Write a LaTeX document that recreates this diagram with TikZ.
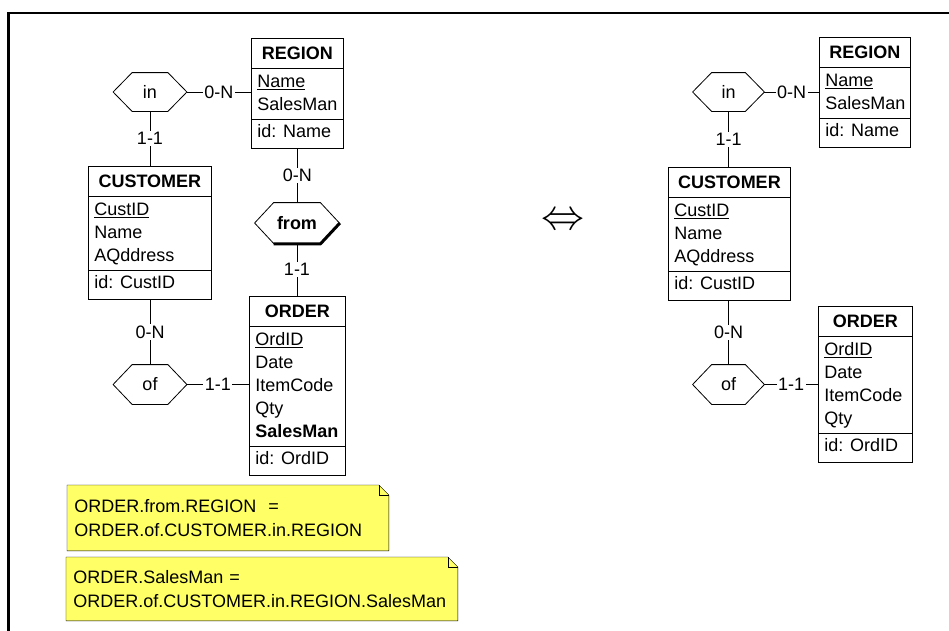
\documentclass[tikz,border=0pt]{standalone}
\usepackage{fontspec}
\setmainfont{Liberation Sans}
\usepackage{graphicx}
\usepackage{array}
\usetikzlibrary{backgrounds}
\definecolor{noteyellow}{RGB}{255,255,102}
\newcommand{\erfont}{\fontsize{18}{23}\selectfont}
\newcommand{\notefont}{\fontsize{18}{24}\selectfont}
\newcommand{\hdrow}{\rule[-8.5pt]{0pt}{30pt}}
\newcommand{\firstrow}{\rule{0pt}{18.5pt}}
\newcommand{\lastrow}{\rule[-8.5pt]{0pt}{8.5pt}}
\newcommand{\idrow}{\rule[-11pt]{0pt}{29pt}}
\setlength{\tabcolsep}{6pt}
\tikzset{
  entity/.style={draw, line width=0.8pt, inner sep=0pt, anchor=north west, font=\erfont},
  rel/.style={inner sep=0pt, font=\erfont},
  card/.style={fill=white, inner sep=1.5pt, font=\erfont},
  note/.style={inner xsep=7pt, inner ysep=0pt, anchor=north west, align=left, font=\notefont},
}

\begin{document}
\begin{tikzpicture}[x=1pt, y=-1pt, line width=0.8pt]
  \useasboundingbox (0,0) rectangle (949,630);
  %% 1. Frame
  \draw[line width=2.5pt] (8.5,631) -- (8.5,13) -- (950,13);
  %% 2. Entities (left schema)
  \node[entity] (region) at (251,38) {\begin{tabular}{p{80pt}}
    \multicolumn{1}{c}{\hdrow\textbf{REGION}}\\ \hline
    \firstrow\underline{Name}\\
    SalesMan\lastrow\\ \hline
    \idrow id: Name
  \end{tabular}};
  \node[entity] (customer) at (88,166) {\begin{tabular}{p{111pt}}
    \multicolumn{1}{c}{\hdrow\textbf{CUSTOMER}}\\ \hline
    \firstrow\underline{CustID}\\
    Name\\
    AQddress\lastrow\\ \hline
    \idrow id: CustID
  \end{tabular}};
  \node[entity] (order) at (249,296) {\begin{tabular}{p{84pt}}
    \multicolumn{1}{c}{\hdrow\textbf{ORDER}}\\ \hline
    \firstrow\underline{OrdID}\\
    Date\\
    ItemCode\\
    Qty\\
    \textbf{SalesMan}\lastrow\\ \hline
    \idrow id: OrdID
  \end{tabular}};
  %% 3. Entities (right schema)
  \node[entity] (regionR) at (819,37) {\begin{tabular}{p{79pt}}
    \multicolumn{1}{c}{\hdrow\textbf{REGION}}\\ \hline
    \firstrow\underline{Name}\\
    SalesMan\lastrow\\ \hline
    \idrow id: Name
  \end{tabular}};
  \node[entity] (customerR) at (668,167) {\begin{tabular}{p{110pt}}
    \multicolumn{1}{c}{\hdrow\textbf{CUSTOMER}}\\ \hline
    \firstrow\underline{CustID}\\
    Name\\
    AQddress\lastrow\\ \hline
    \idrow id: CustID
  \end{tabular}};
  \node[entity] (orderR) at (818,306) {\begin{tabular}{p{82pt}}
    \multicolumn{1}{c}{\hdrow\textbf{ORDER}}\\ \hline
    \firstrow\underline{OrdID}\\
    Date\\
    ItemCode\\
    Qty\lastrow\\ \hline
    \idrow id: OrdID
  \end{tabular}};
  %% 4. Relationship types
  \node[rel, minimum width=73pt, minimum height=38pt] (in) at (150,92) {in};
  \node[rel, minimum width=73pt, minimum height=39pt] (of) at (150,384.5) {of};
  \node[rel, minimum width=84pt, minimum height=40pt] (from) at (297,223) {\textbf{from}};
  \node[rel, minimum width=71pt, minimum height=38pt] (inR) at (728.5,92) {in};
  \node[rel, minimum width=71pt, minimum height=39pt] (ofR) at (728.5,384.5) {of};
  \foreach \hex in {in,of,from,inR,ofR}
    \draw (\hex.west) -- ([xshift=19pt]\hex.north west) -- ([xshift=-19pt]\hex.north east)
      -- (\hex.east) -- ([xshift=-19pt]\hex.south east) -- ([xshift=19pt]\hex.south west) -- cycle;
  \draw[line width=3pt, line join=round] ([xshift=19pt,yshift=-0.5pt]from.south west)
    -- ([xshift=-19pt,yshift=-0.5pt]from.south east) -- ([xshift=0.5pt]from.east);
  %% 5. Roles
  \draw (in.east) -- node[card] {0-N} (in.east -| region.west);
  \draw (in.south) -- node[card] {1-1} (in.south |- customer.north);
  \draw (region.south) -- node[card] {0-N} (region.south |- from.north);
  \draw (from.south) -- node[card] {1-1} (from.south |- order.north);
  \draw (of.north) -- node[card] {0-N} (of.north |- customer.south);
  \draw (of.east) -- node[card] {1-1} (of.east -| order.west);
  \draw (inR.east) -- node[card] {0-N} (inR.east -| regionR.west);
  \draw (inR.south) -- node[card] {1-1} (inR.south |- customerR.north);
  \draw (ofR.north) -- node[card] {0-N} (ofR.north |- customerR.south);
  \draw (ofR.east) -- node[card] {1-1} (ofR.east -| orderR.west);
  %% 6. Equivalence
  \node (equiv) at (563,222) {\scalebox{4.3}{$\Leftrightarrow$}};
  %% 7. Notes
  \node[note, text width=307pt, minimum height=65pt] (note1) at (67,485)
    {ORDER.from.REGION\ \ =\\ORDER.of.CUSTOMER.in.REGION};
  \node[note, text width=377pt, minimum height=63pt] (note2) at (66,557)
    {ORDER.SalesMan =\\ORDER.of.CUSTOMER.in.REGION.SalesMan};
  \begin{pgfonlayer}{background}
    \foreach \nt in {note1,note2} {
      \filldraw[fill=noteyellow] (\nt.north west) -- ([xshift=-10pt]\nt.north east)
        -- ([yshift=-10pt]\nt.north east) -- (\nt.south east) -- (\nt.south west) -- cycle;
      \draw ([xshift=-10pt]\nt.north east) -- ([xshift=-10pt,yshift=-10pt]\nt.north east)
        -- ([yshift=-10pt]\nt.north east);
    }
  \end{pgfonlayer}
\end{tikzpicture}
\end{document}
